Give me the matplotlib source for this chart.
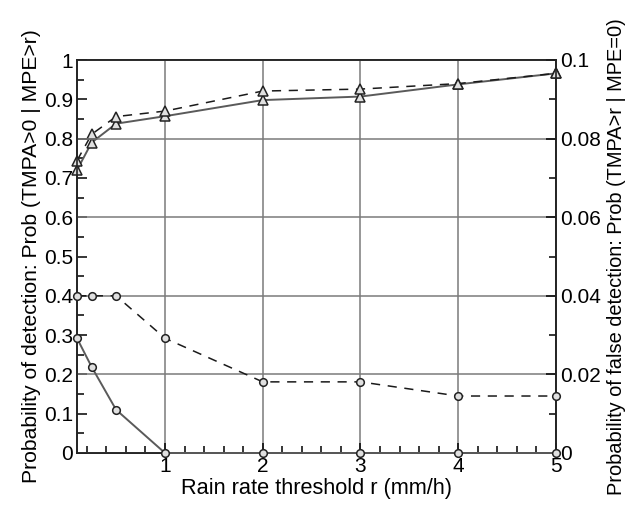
import matplotlib
matplotlib.use("Agg")
import matplotlib.pyplot as plt
from matplotlib.ticker import MultipleLocator

plt.rcParams['font.family'] = ['Liberation Sans', 'DejaVu Sans']

thresholds = [0.1, 0.25, 0.5, 1, 2, 3, 4, 5]
pod_solid = [0.720, 0.790, 0.838, 0.857, 0.898, 0.907, 0.938, 0.966]
pod_dashed = [0.744, 0.811, 0.856, 0.870, 0.921, 0.926, 0.940, 0.966]
pofd_solid = [0.0292, 0.0219, 0.0110, 0.0, 0.0, 0.0, 0.0, 0.0]
pofd_dashed = [0.0400, 0.0400, 0.0400, 0.0292, 0.0181, 0.0181, 0.0145, 0.0145]

xticks = [1, 2, 3, 4, 5]
xticklabels = ['1', '2', '3', '4', '5']
yticks_left = [0, 0.1, 0.2, 0.3, 0.4, 0.5, 0.6, 0.7, 0.8, 0.9, 1.0]
yticklabels_left = ['0', '0.1', '0.2', '0.3', '0.4', '0.5', '0.6', '0.7', '0.8', '0.9', '1']
yticks_right = [0, 0.02, 0.04, 0.06, 0.08, 0.1]
yticklabels_right = ['0', '0.02', '0.04', '0.06', '0.08', '0.1']

xlabel = "Rain rate threshold r (mm/h)"
ylabel_left = "Probability of detection: Prob (TMPA>0 | MPE>r)"
ylabel_right = "Probability of false detection: Prob (TMPA>r | MPE=0)"

fig = plt.figure(figsize=(6.33, 5.07), dpi=100)
ax = fig.add_axes([77/633, 1-453/507, (556-77)/633, (453-60)/507])
ax2 = ax.twinx()

gridc = '#7a7a7a'
solid_c = '#5a5a5a'
dash_c = '#1a1a1a'

ax.plot(thresholds, pod_solid, color=solid_c, lw=1.4, marker='^', ms=7.5,
        mfc='#e0e0e0', mec='#222222', mew=1.1, zorder=3, clip_on=False)
ax.plot(thresholds, pod_dashed, color=dash_c, lw=1.1, ls=(0, (6, 5)), marker='^', ms=7.5,
        mfc='#e0e0e0', mec='#222222', mew=1.1, zorder=3, clip_on=False)
ax2.plot(thresholds, pofd_solid, color=solid_c, lw=1.4, marker='o', ms=5.5,
         mfc='#e0e0e0', mec='#222222', mew=1.1, zorder=3, clip_on=False)
ax2.plot(thresholds, pofd_dashed, color=dash_c, lw=1.1, ls=(0, (6, 5)), marker='o', ms=5.5,
         mfc='#e0e0e0', mec='#222222', mew=1.1, zorder=3, clip_on=False)

ax.set_xlim(0.1, 5)
ax.set_ylim(0, 1)
ax2.set_ylim(0, 0.1)

ax.set_xticks(xticks)
ax.set_xticklabels(xticklabels)
ax.xaxis.set_minor_locator(MultipleLocator(0.2))
ax.set_yticks(yticks_left)
ax.set_yticklabels(yticklabels_left)
ax.yaxis.set_minor_locator(MultipleLocator(0.05))
ax2.set_yticks(yticks_right)
ax2.set_yticklabels(yticklabels_right)
ax2.yaxis.set_minor_locator(MultipleLocator(0.01))

ax.grid(axis='x', which='major', color=gridc, lw=1.1)
ax2.grid(axis='y', which='major', color=gridc, lw=1.1)

for a in (ax, ax2):
    for s in a.spines.values():
        s.set_linewidth(1.2)
        s.set_color('#222222')
ax.tick_params(axis='both', which='major', direction='in', length=7, width=1.1,
               labelsize=15, top=False, pad=3)
ax.tick_params(axis='both', which='minor', direction='in', length=5, width=1.1, top=False)
ax2.tick_params(axis='y', which='major', direction='in', length=7, width=1.1, labelsize=15, pad=3)
ax2.tick_params(axis='y', which='minor', direction='in', length=5, width=1.1)

ax.set_xlabel(xlabel, fontsize=15.7, labelpad=1)
ax.set_ylabel(ylabel_left, fontsize=15.2, labelpad=2)
ax2.set_ylabel(ylabel_right, fontsize=14.4, labelpad=4)

fig.savefig('out.png', dpi=100)
